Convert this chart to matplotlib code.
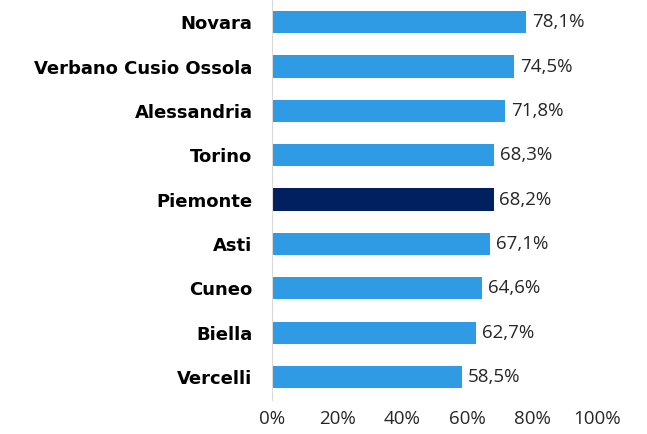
import matplotlib.pyplot as plt

# dati (dall'alto verso il basso)
province = ['Novara', 'Verbano Cusio Ossola', 'Alessandria', 'Torino', 'Piemonte',
            'Asti', 'Cuneo', 'Biella', 'Vercelli']
valori = [78.1, 74.5, 71.8, 68.3, 68.2, 67.1, 64.6, 62.7, 58.5]
xticks = [0, 20, 40, 60, 80, 100]

azzurro = '#2F9BE5'
blu_scuro = '#00205F'

fig = plt.figure(figsize=(6.47, 4.34), dpi=100)
ax = fig.add_axes([272 / 647, 34 / 434, 325 / 647, 400 / 434])

n = len(province)
pos = [n - 1 - i for i in range(n)]
colori = [blu_scuro if p == 'Piemonte' else azzurro for p in province]
ax.barh(pos, valori, height=0.5, color=colori)

for y, v in zip(pos, valori):
    ax.text(v + 1.8, y, f'{v:.1f}%'.replace('.', ','), va='center', ha='left',
            fontsize=13.5, family='Open Sans', color='#262626')

ax.set_xlim(0, 100)
ax.set_ylim(-0.52, n - 0.5)
ax.set_xticks(xticks)
ax.set_xticklabels([f'{t}%' for t in xticks], family='Open Sans', fontsize=13.5, color='#262626')
ax.set_yticks(pos)
ax.set_yticklabels(province, fontsize=13, fontweight='bold', family='DejaVu Sans')
ax.tick_params(axis='x', length=0, pad=7)
ax.tick_params(axis='y', length=0, pad=14)

for s in ['top', 'right', 'bottom']:
    ax.spines[s].set_visible(False)
ax.spines['left'].set_color('#D9D9D9')

fig.savefig('out.png', dpi=100)
